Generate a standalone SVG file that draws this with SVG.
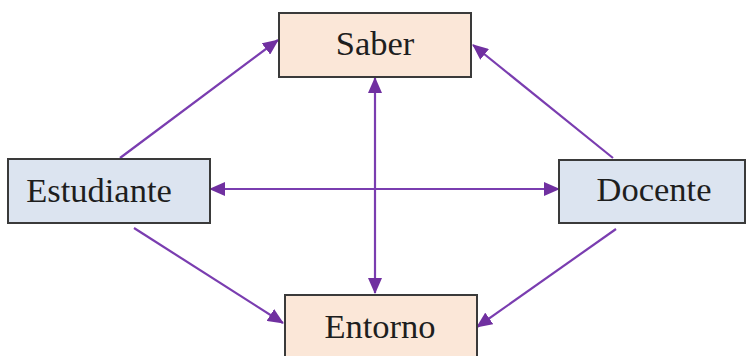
<svg xmlns="http://www.w3.org/2000/svg" width="747" height="356" viewBox="0 0 747 356">
<defs>
<style>
.box{stroke:#3a3a3a;stroke-width:2}
.peach{fill:#fbe7d8}
.blue{fill:#dce4f0}
.lbl{font-family:'Liberation Serif','Times New Roman',serif;font-size:34.5px;fill:#1e1e1e;text-anchor:middle}
.c{stroke:#7a3db0;stroke-width:2.2;fill:none}
</style>
<marker id="ah" markerUnits="userSpaceOnUse" markerWidth="16" markerHeight="14" viewBox="0 0 16 14" refX="15" refY="7" orient="auto-start-reverse">
<path d="M0,0 L16,7 L0,14 Z" fill="#7030a0"/>
</marker>
</defs>
<rect width="747" height="356" fill="#ffffff"/>
<g id="connectors">
<line class="c" x1="120" y1="158" x2="278" y2="40" marker-end="url(#ah)"/>
<line class="c" x1="613" y1="158" x2="473" y2="45" marker-end="url(#ah)"/>
<line class="c" x1="134" y1="228" x2="283" y2="323" marker-end="url(#ah)"/>
<line class="c" x1="616" y1="229" x2="477" y2="327" marker-end="url(#ah)"/>
<line class="c" x1="375" y1="78" x2="375" y2="293" marker-start="url(#ah)" marker-end="url(#ah)"/>
<line class="c" x1="210" y1="189" x2="559" y2="189" marker-start="url(#ah)" marker-end="url(#ah)"/>
</g>
<g id="saber">
<rect class="box peach" x="279" y="13" width="192" height="64"/>
<text class="lbl" x="375" y="55">Saber</text>
</g>
<g id="estudiante">
<rect class="box blue" x="8" y="159" width="202" height="64"/>
<text class="lbl" x="99" y="202">Estudiante</text>
</g>
<g id="docente">
<rect class="box blue" x="559" y="160" width="186" height="63"/>
<text class="lbl" x="654" y="201">Docente</text>
</g>
<g id="entorno">
<rect class="box peach" x="285" y="295" width="192" height="70"/>
<text class="lbl" x="380" y="338">Entorno</text>
</g>
</svg>
